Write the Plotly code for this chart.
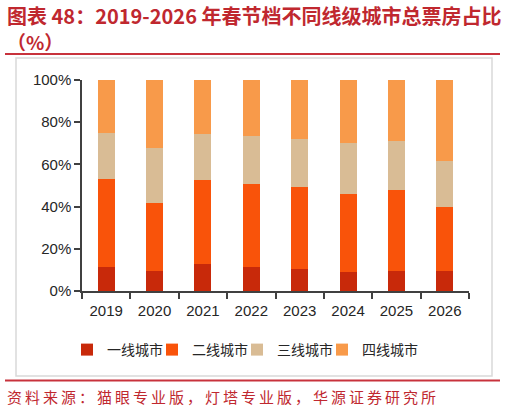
import plotly.graph_objects as go

years = ["2019", "2020", "2021", "2022", "2023", "2024", "2025", "2026"]
tier_names = ["一线城市", "二线城市", "三线城市", "四线城市"]

# 各线级城市票房占比 (%)
tier1 = [11.5, 9.6, 12.6, 11.2, 10.6, 9.0, 9.5, 9.6]
tier2 = [41.4, 31.9, 40.0, 39.4, 38.8, 37.0, 38.5, 30.2]
tier3 = [22.0, 26.4, 21.8, 23.0, 22.6, 24.1, 23.2, 22.0]
tier4 = [25.1, 32.1, 25.6, 26.4, 28.0, 29.9, 28.8, 38.2]

colors = ["#C8290A", "#F9530A", "#D9BC95", "#F89A4A"]

title_1 = "图表 48：2019-2026 年春节档不同线级城市总票房占比"
title_2 = "（%）"
source = "资料来源：猫眼专业版，灯塔专业版，华源证券研究所"

W, H = 506, 413
L, R, T, B = 82, 469, 80, 291


def px(x):
    return (x - L) / (R - L)


def py(y):
    return (B - y) / (B - T)


def spaced(s):
    return "\u2009".join(s)


fig = go.Figure()

for name, vals, c in zip(tier_names, [tier1, tier2, tier3, tier4], colors):
    fig.add_trace(
        go.Bar(
            x=years,
            y=vals,
            name=name,
            marker=dict(color=c, line=dict(width=0)),
            width=0.35
        )
    )

# 空白图例项，只为让图例框留出最后一项文字的位置
fig.add_trace(
    go.Bar(
        x=[None],
        y=[None],
        name=" ",
        marker=dict(color="rgba(0,0,0,0)", line=dict(width=0, color="rgba(0,0,0,0)")),
        opacity=0,
        hoverinfo="skip"
    )
)

fig.update_layout(
    width=W,
    height=H,
    barmode="stack",
    plot_bgcolor="white",
    paper_bgcolor="white",
    margin=dict(l=L, r=W - R, t=T, b=H - B, autoexpand=False),
    font=dict(family="Liberation Sans, Arial, sans-serif", size=14, color="#262626"),
    showlegend=True,
    legend=dict(
        orientation="h",
        x=px(67),
        xanchor="left",
        y=py(350),
        yanchor="middle",
        font=dict(family="Noto Sans CJK SC", size=14, color="#262626"),
        itemwidth=30,
        entrywidth=40,
        traceorder="normal",
        bgcolor="rgba(0,0,0,0)"
    ),
    xaxis=dict(
        type="category",
        tickson="boundaries",
        ticks="outside",
        ticklen=6,
        tickwidth=1.5,
        tickcolor="#404040",
        ticklabelstandoff=5,
        showline=True,
        linecolor="#404040",
        linewidth=1.5,
        showgrid=False,
        tickfont=dict(size=15)
    ),
    yaxis=dict(
        range=[0, 100],
        tickvals=[0, 20, 40, 60, 80, 100],
        ticktext=["0%", "20%", "40%", "60%", "80%", "100%"],
        ticks="outside",
        ticklen=6,
        tickwidth=1.5,
        tickcolor="#404040",
        showline=True,
        linecolor="#404040",
        linewidth=1.5,
        showgrid=False,
        zeroline=False,
        tickfont=dict(size=15)
    )
)

# 外框与红色分隔线
fig.add_shape(type="rect", xref="paper", yref="paper",
              x0=px(16), x1=px(492), y0=py(376), y1=py(58),
              line=dict(color="#D9D9D9", width=1.5), layer="below")
fig.add_shape(type="line", xref="paper", yref="paper",
              x0=px(5), x1=px(500), y0=py(54), y1=py(54),
              line=dict(color="#C8323C", width=2))
fig.add_shape(type="line", xref="paper", yref="paper",
              x0=px(5), x1=px(500), y0=py(380.5), y1=py(380.5),
              line=dict(color="#C8323C", width=2))

fig.add_annotation(
    xref="paper", yref="paper", x=px(5), y=py(15),
    xanchor="left", yanchor="middle", showarrow=False,
    text="<b>" + title_1 + "</b>",
    font=dict(family="Noto Sans CJK SC", size=20, color="#C0282F")
)
fig.add_annotation(
    xref="paper", yref="paper", x=px(5), y=py(42),
    xanchor="left", yanchor="middle", showarrow=False,
    text="<b>" + title_2 + "</b>",
    font=dict(family="Noto Sans CJK SC", size=19, color="#C0282F")
)
fig.add_annotation(
    xref="paper", yref="paper", x=px(5), y=py(396),
    xanchor="left", yanchor="middle", showarrow=False,
    text=spaced(source),
    font=dict(family="Noto Sans CJK SC", size=15, color="#C0282F")
)

fig.write_html(
    "out.html",
    config={"displayModeBar": False},
    post_script="document.body.style.margin='0';"
)
